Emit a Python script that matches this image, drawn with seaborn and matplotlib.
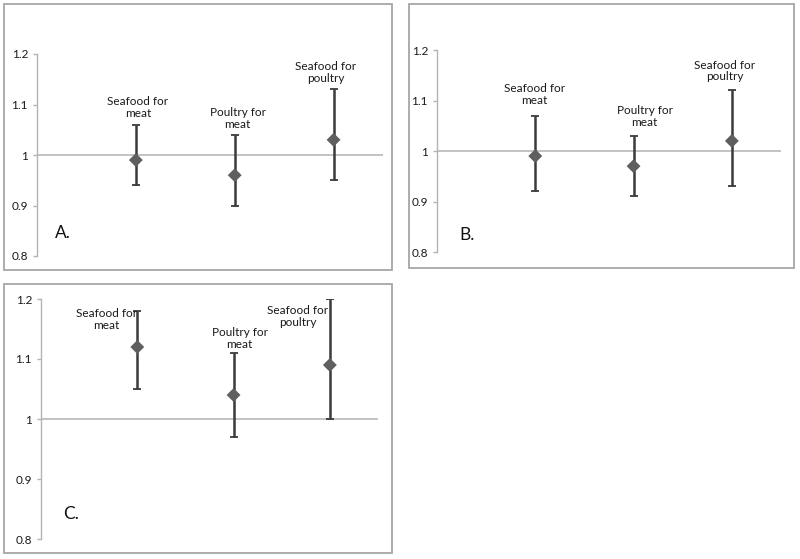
import matplotlib.pyplot as plt
import numpy as np
import pandas as pd
import seaborn as sns
from matplotlib.patches import Rectangle
from matplotlib.ticker import FuncFormatter

# data: point estimate and interval per substitution
categories = ["Seafood for\nmeat", "Poultry for\nmeat", "Seafood for\npoultry"]
panels = ["A.", "B.", "C."]

est_a = [0.99, 0.96, 1.03]
low_a = [0.94, 0.90, 0.95]
high_a = [1.06, 1.04, 1.13]

est_b = [0.99, 0.97, 1.02]
low_b = [0.92, 0.91, 0.93]
high_b = [1.07, 1.03, 1.12]

est_c = [1.12, 1.04, 1.09]
low_c = [1.05, 0.97, 1.00]
high_c = [1.18, 1.11, 1.20]

yticks = [0.8, 0.9, 1.0, 1.1, 1.2]

rows = []
for p, est, lo, hi in zip(panels, [est_a, est_b, est_c], [low_a, low_b, low_c], [high_a, high_b, high_c]):
    for i, c in enumerate(categories):
        rows.append({'panel': p, 'category': c, 'pos': i + 1, 'est': est[i], 'low': lo[i], 'high': hi[i]})
df = pd.DataFrame(rows)

sns.set_style('white')
plt.rcParams['font.family'] = ['Lato', 'DejaVu Sans']

W, H = 800, 559
fig = plt.figure(figsize=(W / 100, H / 100), dpi=100)

# layout in pixels: axes (left, right, top, bottom), frame (x0, x1, y0, y1)
layout = {
    'A.': dict(axes=(37, 383, 54, 256), frame=(4, 392, 4, 270), letter=(0.052, 0.089),
               offsets=[(2, 6), (3, 5), (-8, 5)]),
    'B.': dict(axes=(437, 781, 50, 252), frame=(409, 794, 4, 268), letter=(0.064, 0.059),
               offsets=[(-1, 10), (11, 8), (-7, 8)]),
    'C.': dict(axes=(41, 378, 299, 539), frame=(4, 392, 284, 553), letter=(0.065, 0.083),
               offsets=[(-31, -20), (6, 3), (-32, -29)]),
}

for p in panels:
    lay = layout[p]
    l, r, t, b = lay['axes']
    fx0, fx1, fy0, fy1 = lay['frame']
    fig.patches.append(Rectangle((fx0 / W, 1 - fy1 / H), (fx1 - fx0) / W, (fy1 - fy0) / H,
                                 transform=fig.transFigure, fill=False,
                                 edgecolor='#a6a6a6', linewidth=1.3))
    ax = fig.add_axes([l / W, 1 - b / H, (r - l) / W, (b - t) / H])
    ax.patch.set_visible(False)
    d = df[df['panel'] == p]

    ax.axhline(1, color='#b3b3b3', linewidth=1.1, zorder=1)
    ax.errorbar(d['pos'], d['est'], yerr=[d['est'] - d['low'], d['high'] - d['est']],
                fmt='none', ecolor='#3a3a3a', elinewidth=1.8, capsize=3, capthick=1.3, zorder=2)
    sns.scatterplot(x=d['pos'], y=d['est'], marker='D', s=50, color='#5f5f5f',
                    edgecolor='none', zorder=3, ax=ax, legend=False)

    for (dx, dy), (_, row) in zip(lay['offsets'], d.iterrows()):
        ax.annotate(row['category'], (row['pos'], row['high']), xytext=(dx, dy),
                    textcoords='offset pixels', ha='center', va='bottom',
                    fontsize=8.5, color='#1a1a1a', linespacing=1.1)

    ax.text(lay['letter'][0], lay['letter'][1], p, transform=ax.transAxes,
            fontsize=12.5, color='#111111', va='baseline', ha='left')

    ax.set_xlim(0, 3.5)
    ax.set_ylim(0.8, 1.2)
    ax.set_xticks([])
    ax.set_yticks(yticks)
    ax.yaxis.set_major_formatter(FuncFormatter(lambda v, _: f'{v:g}'))
    ax.set_xlabel('')
    ax.set_ylabel('')
    for s in ['top', 'right', 'bottom']:
        ax.spines[s].set_visible(False)
    ax.spines['left'].set_color('#b3b3b3')
    ax.spines['left'].set_linewidth(1.0)
    ax.tick_params(axis='y', left=True, length=3, width=1, color='#b3b3b3',
                   labelsize=8.5, labelcolor='#1a1a1a', pad=3.5)

fig.savefig('out.png', dpi=100)
